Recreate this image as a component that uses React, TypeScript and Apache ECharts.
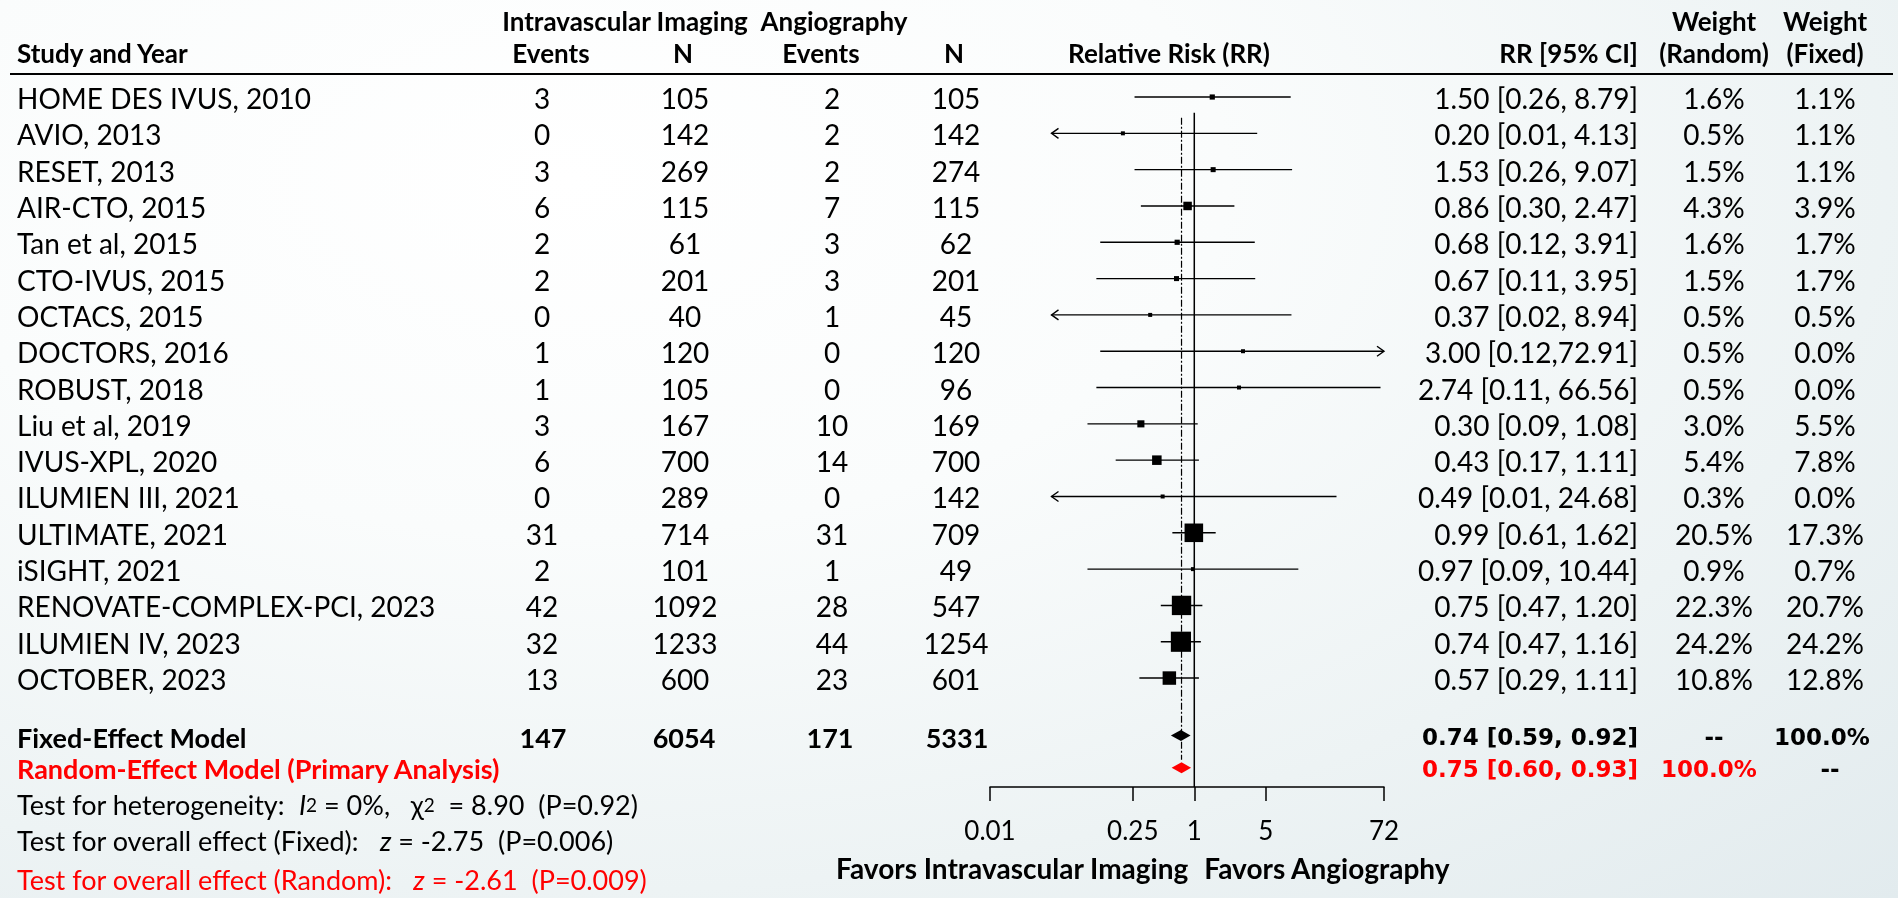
import React, { useEffect, useRef } from "react";
import * as echarts from "echarts";

const studies = [
  "HOME DES IVUS, 2010", "AVIO, 2013", "RESET, 2013", "AIR-CTO, 2015", "Tan et al, 2015",
  "CTO-IVUS, 2015", "OCTACS, 2015", "DOCTORS, 2016", "ROBUST, 2018", "Liu et al, 2019",
  "IVUS-XPL, 2020", "ILUMIEN III, 2021", "ULTIMATE, 2021", "iSIGHT, 2021",
  "RENOVATE-COMPLEX-PCI, 2023", "ILUMIEN IV, 2023", "OCTOBER, 2023",
];
const ivEvents = [3, 0, 3, 6, 2, 2, 0, 1, 1, 3, 6, 0, 31, 2, 42, 32, 13];
const ivN = [105, 142, 269, 115, 61, 201, 40, 120, 105, 167, 700, 289, 714, 101, 1092, 1233, 600];
const angEvents = [2, 2, 2, 7, 3, 3, 1, 0, 0, 10, 14, 0, 31, 1, 28, 44, 23];
const angN = [105, 142, 274, 115, 62, 201, 45, 120, 96, 169, 700, 142, 709, 49, 547, 1254, 601];
const rr = [1.5, 0.2, 1.53, 0.86, 0.68, 0.67, 0.37, 3.0, 2.74, 0.3, 0.43, 0.49, 0.99, 0.97, 0.75, 0.74, 0.57];
const ciLow = [0.26, 0.01, 0.26, 0.3, 0.12, 0.11, 0.02, 0.12, 0.11, 0.09, 0.17, 0.01, 0.61, 0.09, 0.47, 0.47, 0.29];
const ciHigh = [8.79, 4.13, 9.07, 2.47, 3.91, 3.95, 8.94, 72.91, 66.56, 1.08, 1.11, 24.68, 1.62, 10.44, 1.2, 1.16, 1.11];
const ciLabels = [
  "1.50 [0.26, 8.79]", "0.20 [0.01, 4.13]", "1.53 [0.26, 9.07]", "0.86 [0.30, 2.47]",
  "0.68 [0.12, 3.91]", "0.67 [0.11, 3.95]", "0.37 [0.02, 8.94]", "3.00 [0.12,72.91]",
  "2.74 [0.11, 66.56]", "0.30 [0.09, 1.08]", "0.43 [0.17, 1.11]", "0.49 [0.01, 24.68]",
  "0.99 [0.61, 1.62]", "0.97 [0.09, 10.44]", "0.75 [0.47, 1.20]", "0.74 [0.47, 1.16]",
  "0.57 [0.29, 1.11]",
];
const weightRandom = [1.6, 0.5, 1.5, 4.3, 1.6, 1.5, 0.5, 0.5, 0.5, 3.0, 5.4, 0.3, 20.5, 0.9, 22.3, 24.2, 10.8];
const weightFixed = [1.1, 1.1, 1.1, 3.9, 1.7, 1.7, 0.5, 0.0, 0.0, 5.5, 7.8, 0.0, 17.3, 0.7, 20.7, 24.2, 12.8];

const summaryLabels = ["Fixed-Effect Model", "Random-Effect Model (Primary Analysis)"];
const fixedTotals = [147, 6054, 171, 5331];
const summaryRR = [0.74, 0.75];
const summaryLow = [0.59, 0.6];
const summaryHigh = [0.92, 0.93];
const summaryCI = ["0.74 [0.59, 0.92]", "0.75 [0.60, 0.93]"];
const summaryWRandom = ["--", "100.0%"];
const summaryWFixed = ["100.0%", "--"];

const tickValues = [0.01, 0.25, 1, 5, 72];
const tickLabels = ["0.01", "0.25", "1", "5", "72"];
const arrowMin = 0.04;
const axisMax = 72;

// layout
const GRID_LEFT = 990;
const GRID_RIGHT_X = 1384;
const GRID_TOP = 60.7;
const GRID_BOTTOM_Y = 787;
const Y_MAX = 20;
const SUMMARY_V = [18.58, 19.47];
const RED = "#ff0000";
const FONT = "Lato";

const log = (v: number) => Math.log10(v);

export default function App() {
  const ref = useRef<HTMLDivElement>(null);
  useEffect(() => {
    if (!ref.current) return;
    const chart = echarts.init(ref.current, undefined, { renderer: "svg" });

    const whiskerData = studies.map((_, i) => {
      const lo = Math.max(ciLow[i], arrowMin);
      const hi = Math.min(ciHigh[i], axisMax);
      return [log(rr[i]), i + 1, log(lo), log(hi), ciLow[i] < arrowMin ? 1 : 0, ciHigh[i] > axisMax ? 1 : 0];
    });
    const squareData = studies.map((_, i) => [log(rr[i]), i + 1, weightRandom[i]]);
    const diamondData = summaryRR.map((v, i) => [log(v), SUMMARY_V[i], log(summaryLow[i]), log(summaryHigh[i]), i]);

    chart.setOption({
      animation: false,
      grid: {
        left: GRID_LEFT,
        top: GRID_TOP,
        width: GRID_RIGHT_X - GRID_LEFT,
        height: GRID_BOTTOM_Y - GRID_TOP,
        containLabel: false,
      },
      xAxis: {
        type: "value",
        min: log(tickValues[0]),
        max: log(axisMax),
        splitLine: { show: false },
        axisLine: { show: true, onZero: false, lineStyle: { color: "#000", width: 1.5 } },
        axisTick: {
          show: true,
          customValues: tickValues.map(log),
          length: 14,
          lineStyle: { color: "#000", width: 1.5 },
        },
        axisLabel: {
          show: true,
          customValues: tickValues.map(log),
          margin: 30,
          fontFamily: FONT,
          fontSize: 26,
          color: "#000",
          formatter: (val: number) => {
            let best = 0;
            tickValues.forEach((t, k) => {
              if (Math.abs(log(t) - val) < Math.abs(log(tickValues[best]) - val)) best = k;
            });
            return tickLabels[best];
          },
        },
      },
      yAxis: { type: "value", min: 0, max: Y_MAX, inverse: true, show: false },
      series: [
        {
          type: "line",
          data: [[0, 1.43], [0, Y_MAX]],
          symbol: "none",
          lineStyle: { color: "#000", width: 1.5 },
          z: 1,
        },
        {
          type: "line",
          data: [[log(summaryRR[1]), 1.57], [log(summaryRR[1]), 19.25]],
          symbol: "none",
          lineStyle: { color: "#000", width: 1.2, type: [7, 2, 2, 2] },
          z: 1,
        },
        {
          type: "custom",
          data: whiskerData,
          encode: { x: [0, 2, 3], y: 1 },
          z: 2,
          renderItem: (_p: any, api: any) => {
            const v = api.value(1);
            const p1 = api.coord([api.value(2), v]);
            const p2 = api.coord([api.value(3), v]);
            const st = { stroke: "#000", lineWidth: 1.4, fill: "none" };
            const children: any[] = [
              { type: "line", shape: { x1: p1[0], y1: p1[1], x2: p2[0], y2: p2[1] }, style: st },
            ];
            if (api.value(4)) {
              children.push({
                type: "polyline",
                shape: { points: [[p1[0] + 7, p1[1] - 5], [p1[0], p1[1]], [p1[0] + 7, p1[1] + 5]] },
                style: st,
              });
            }
            if (api.value(5)) {
              children.push({
                type: "polyline",
                shape: { points: [[p2[0] - 7, p2[1] - 5], [p2[0], p2[1]], [p2[0] - 7, p2[1] + 5]] },
                style: st,
              });
            }
            return { type: "group", children };
          },
        },
        {
          type: "scatter",
          data: squareData,
          symbol: "rect",
          symbolSize: (val: number[]) => Math.max(4, 4.1 * Math.sqrt(val[2])),
          itemStyle: { color: "#000", opacity: 1 },
          z: 3,
        },
        {
          type: "custom",
          data: diamondData,
          encode: { x: [0, 2, 3], y: 1 },
          z: 3,
          renderItem: (_p: any, api: any) => {
            const v = api.value(1);
            const c = api.coord([api.value(0), v]);
            const l = api.coord([api.value(2), v]);
            const h = api.coord([api.value(3), v]);
            return {
              type: "polygon",
              shape: { points: [[l[0], l[1]], [c[0], c[1] - 5.5], [h[0], h[1]], [c[0], c[1] + 5.5]] },
              style: { fill: api.value(4) === 1 ? RED : "#000" },
            };
          },
        },
      ],
    });

    const py = (v: number) => chart.convertToPixel({ yAxisIndex: 0 }, v) as number;
    const px = (v: number) => chart.convertToPixel({ xAxisIndex: 0 }, v) as number;

    const txt = (text: string, x: number, y: number, o: any = {}) => ({
      type: "text",
      x,
      y,
      silent: true,
      style: {
        text,
        fontFamily: o.family || FONT,
        fontSize: o.size || 28,
        fontWeight: o.bold ? "bold" : "normal",
        fill: o.color || "#000",
        align: o.align || "left",
        textAlign: o.align || "left",
        verticalAlign: "middle",
        textVerticalAlign: "middle",
        rich: o.rich,
      },
    });

    const g: any[] = [];
    // headers
    const H1 = 21, H2 = 53;
    const HB = { bold: true, size: 26 };
    g.push(txt("Intravascular Imaging", 625, H1, { ...HB, align: "center" }));
    g.push(txt("Angiography", 834, H1, { ...HB, align: "center" }));
    g.push(txt("Weight", 1714, H1, { ...HB, align: "center" }));
    g.push(txt("Weight", 1825, H1, { ...HB, align: "center" }));
    g.push(txt("Study and Year", 17, H2, { ...HB }));
    g.push(txt("Events", 551, H2, { ...HB, align: "center" }));
    g.push(txt("N", 683, H2, { ...HB, align: "center" }));
    g.push(txt("Events", 821, H2, { ...HB, align: "center" }));
    g.push(txt("N", 954, H2, { ...HB, align: "center" }));
    g.push(txt("Relative Risk (RR)", 1169, H2, { ...HB, align: "center" }));
    g.push(txt("RR [95% CI]", 1638, H2, { ...HB, align: "right" }));
    g.push(txt("(Random)", 1714, H2, { ...HB, align: "center" }));
    g.push(txt("(Fixed)", 1825, H2, { ...HB, align: "center" }));
    g.push({ type: "line", silent: true, shape: { x1: 10, y1: 74, x2: 1893, y2: 74 }, style: { stroke: "#000", lineWidth: 2 } });

    studies.forEach((s, i) => {
      const y = py(i + 1) + 1;
      g.push(txt(s, 17, y));
      g.push(txt(String(ivEvents[i]), 542, y, { align: "center" }));
      g.push(txt(String(ivN[i]), 685, y, { align: "center" }));
      g.push(txt(String(angEvents[i]), 832, y, { align: "center" }));
      g.push(txt(String(angN[i]), 956, y, { align: "center" }));
      g.push(txt(ciLabels[i], 1638, y, { align: "right" }));
      g.push(txt(weightRandom[i].toFixed(1) + "%", 1714, y, { align: "center" }));
      g.push(txt(weightFixed[i].toFixed(1) + "%", 1825, y, { align: "center" }));
    });

    // summary rows
    const yF = py(SUMMARY_V[0]) + 2;
    const yR = py(SUMMARY_V[1]) + 1;
    const SB = { bold: true, size: 27 };
    g.push(txt(summaryLabels[0], 17, yF, SB));
    [543, 684, 830, 957].forEach((x, k) => g.push(txt(String(fixedTotals[k]), x, yF, { ...SB, align: "center" })));
    g.push(txt(summaryLabels[1], 17, yR, { ...SB, color: RED }));
    const SF = { family: "DejaVu Sans", size: 23, bold: true };
    g.push(txt(summaryCI[0], 1638, yF, { ...SF, align: "right" }));
    g.push(txt(summaryWRandom[0], 1714, yF, { ...SF, align: "center" }));
    g.push(txt(summaryWFixed[0], 1822, yF, { ...SF, align: "center" }));
    g.push(txt(summaryCI[1], 1638, yR, { ...SF, align: "right", color: RED }));
    g.push(txt(summaryWRandom[1], 1709, yR, { ...SF, align: "center", color: RED }));
    g.push(txt(summaryWFixed[1], 1830, yR, { ...SF, align: "center" }));

    // tests
    const rich = (color: string) => ({
      n: { fontFamily: FONT, fontSize: 27, fill: color, color },
      i: { fontFamily: FONT, fontSize: 27, fill: color, color, fontStyle: "italic" },
      s: { fontFamily: FONT, fontSize: 19, fill: color, color },
    });
    g.push(txt("{n|Test for heterogeneity:  }{i|I}{s|2}{n| = 0%,   χ}{s|2}{n|  = 8.90  (P=0.92)}", 17, 804, { rich: rich("#000") }));
    g.push(txt("{n|Test for overall effect (Fixed):   }{i|z}{n| = -2.75  (P=0.006)}", 17, 840, { rich: rich("#000") }));
    g.push(txt("{n|Test for overall effect (Random):   }{i|z}{n| = -2.61  (P=0.009)}", 17, 879, { rich: rich(RED) }));

    // favors
    const xOne = px(0);
    g.push(txt("Favors Intravascular Imaging", xOne - 6, 868, { bold: true, align: "right" }));
    g.push(txt("Favors Angiography", xOne + 10, 868, { bold: true, align: "left" }));

    chart.setOption({ graphic: { elements: g } });

    return () => chart.dispose();
  }, []);

  return (
    <div
      ref={ref}
      style={{
        position: "fixed",
        left: 0,
        top: 0,
        width: "1898px",
        height: "898px",
        background:
          "radial-gradient(ellipse at 30% 20%, #ffffff 0%, #fafcfc 35%, #edf3f4 70%, #e2ebee 100%)",
      }}
    />
  );
}
